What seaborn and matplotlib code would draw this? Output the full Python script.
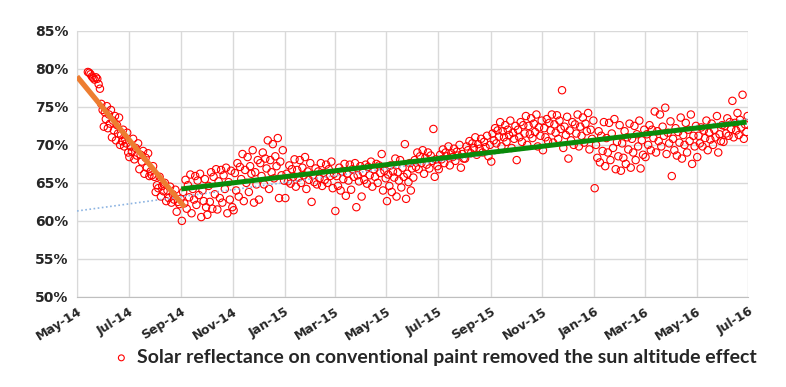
import matplotlib
matplotlib.use("Agg")
import matplotlib.pyplot as plt
import matplotlib.dates as mdates
import matplotlib.ticker as mtick
import seaborn as sns
import pandas as pd
import numpy as np

# readings per month (%)
months = ["2014-05", "2014-06", "2014-07", "2014-08", "2014-09", "2014-10", "2014-11",
          "2014-12", "2015-01", "2015-02", "2015-03", "2015-04", "2015-05", "2015-06",
          "2015-07", "2015-08", "2015-09", "2015-10", "2015-11", "2015-12", "2016-01",
          "2016-02", "2016-03", "2016-04", "2016-05", "2016-06"]
first_day = 13  # first reading is mid May 2014
falling_months = ["2014-06", "2014-07", "2014-08"]  # reflectance drops fast inside these

vals_2014_05 = [79.6, 79.5, 79.3, 79.0, 78.8, 78.6, 78.9, 78.7, 78.0, 77.4, 75.4, 74.6]
vals_2014_06 = [74.0, 73.6, 73.2, 72.8, 72.4, 73.8, 72.2, 71.9, 74.3, 73.4, 72.6, 71.5, 71.0,
                70.8, 72.0, 71.3, 70.6, 75.1, 74.6, 70.2, 69.8, 70.0, 69.0, 71.6, 70.5]
vals_2014_07 = [70.8, 70.2, 69.8, 68.6, 68.9, 68.3, 68.1, 68.7, 69.1, 68.4, 67.8, 66.2, 66.0,
                67.2, 66.8, 65.8, 67.0, 69.6, 69.2, 66.5, 65.9]
vals_2014_08 = [64.5, 63.8, 64.0, 62.6, 62.4, 64.7, 63.9, 63.2, 62.8, 64.3, 65.0, 63.5, 62.9,
                61.2, 64.6, 64.1, 63.0, 62.5, 65.8, 62.2]
vals_2014_09 = [65.9, 65.4, 62.1, 61.0, 61.6, 62.8, 63.4, 64.2, 60.5, 60.0, 66.1, 65.3, 64.7,
                63.8, 62.3, 61.8, 65.5, 66.2, 64.0, 63.1, 62.6]
vals_2014_10 = [66.7, 66.0, 65.1, 62.5, 61.0, 60.8, 66.4, 65.8, 64.2, 63.5, 62.4, 61.6, 67.0,
                66.6, 66.8, 62.8, 61.5, 63.0, 64.6, 65.2, 61.8]
vals_2014_11 = [66.3, 64.0, 63.2, 62.6, 61.4, 64.8, 66.4, 67.2, 68.4, 69.3, 68.0, 67.6, 66.7,
                65.0, 63.8, 62.4, 66.2, 65.5, 68.8, 67.1]
vals_2014_12 = [70.9, 70.6, 70.1, 69.0, 68.5, 67.8, 67.6, 69.3, 68.2, 66.4, 65.9, 64.8, 63.0,
                62.8, 66.0, 67.2, 65.3, 68.0, 66.9, 65.6, 64.2]
vals_2015_01 = [68.4, 67.6, 68.1, 66.8, 66.2, 65.7, 65.0, 64.5, 66.5, 67.0, 65.4, 64.9, 63.0,
                66.0, 67.3, 65.2, 64.2, 66.7, 65.8, 68.0]
vals_2015_02 = [66.5, 65.9, 64.8, 65.6, 66.9, 67.4, 65.1, 64.6, 66.2, 62.5, 66.0, 67.6, 65.4,
                64.3, 66.8, 65.0, 66.3, 67.8]
vals_2015_03 = [66.8, 67.4, 65.9, 65.2, 64.6, 67.6, 66.2, 65.5, 61.3, 67.0, 66.5, 64.1, 65.8,
                61.8, 64.0, 63.3, 67.5, 66.0, 65.3, 67.2]
vals_2015_04 = [67.5, 67.3, 66.4, 65.6, 64.9, 67.8, 66.3, 65.0, 64.0, 68.8, 66.0, 67.1, 65.8,
                63.2, 66.8, 65.4, 64.5, 66.6, 67.4]
vals_2015_05 = [65.1, 64.6, 64.0, 63.8, 64.4, 66.2, 67.0, 66.5, 65.8, 62.9, 63.2, 68.0, 70.1,
                67.6, 66.9, 66.1, 67.3, 68.2, 66.4, 65.7, 62.6, 65.3]
vals_2015_06 = [69.0, 68.3, 67.9, 67.2, 66.8, 72.1, 68.6, 68.0, 67.1, 65.8, 65.7, 69.3, 68.5,
                67.6, 66.9, 68.1, 69.0, 67.4, 66.2]
vals_2015_07 = [68.8, 68.2, 67.6, 66.8, 69.0, 68.5, 67.9, 69.5, 68.7, 68.1, 67.3, 69.8, 68.4,
                69.1, 67.0, 68.9, 69.4, 70.0, 68.6]
vals_2015_08 = [70.5, 69.8, 68.9, 69.3, 70.1, 69.6, 68.5, 70.8, 69.0, 68.2, 70.4, 71.2, 69.5,
                70.0, 69.7, 68.7, 71.0, 70.2]
vals_2015_09 = [73.2, 72.6, 71.8, 71.0, 70.4, 72.2, 71.5, 70.8, 69.8, 73.0, 72.0, 71.3, 70.2,
                69.6, 71.9, 71.1, 67.8, 70.6, 72.5, 71.6]
vals_2015_10 = [73.8, 73.2, 72.5, 71.7, 70.9, 73.5, 72.0, 71.2, 70.4, 72.8, 71.5, 70.0, 68.0,
                73.0, 72.3, 71.0, 69.8, 74.0, 72.6, 71.4]
vals_2015_11 = [77.2, 73.9, 73.2, 72.4, 71.6, 70.8, 72.9, 72.1, 71.3, 70.3, 69.6, 74.0, 73.4,
                72.7, 71.9, 69.3, 70.5, 73.7, 72.2, 71.0]
vals_2015_12 = [74.2, 73.6, 72.8, 71.9, 71.2, 70.6, 69.8, 68.2, 73.0, 72.4, 71.5, 70.0, 69.4,
                74.0, 72.7, 71.8, 70.3, 73.2, 72.0, 70.8]
vals_2016_01 = [73.4, 72.6, 71.8, 70.9, 70.0, 69.2, 68.5, 67.7, 64.3, 72.9, 71.5, 70.4, 69.0,
                68.0, 67.2, 73.0, 71.2, 69.6, 68.3, 66.8]
vals_2016_02 = [72.8, 72.0, 71.4, 70.6, 69.8, 69.0, 68.3, 67.5, 66.6, 73.2, 71.8, 70.2, 68.7,
                67.0, 72.5, 71.0, 69.4, 68.0, 66.9, 70.8]
vals_2016_03 = [74.9, 74.4, 74.0, 72.4, 71.6, 70.9, 70.2, 69.3, 68.4, 73.1, 72.0, 71.2, 70.5,
                69.8, 68.8, 72.6, 71.4, 70.0, 69.0, 71.8]
vals_2016_04 = [74.0, 73.6, 72.9, 72.0, 71.3, 70.5, 69.8, 69.0, 68.2, 67.5, 65.9, 72.5, 71.7,
                70.8, 70.0, 69.3, 68.6, 71.2, 70.3, 72.2]
vals_2016_05 = [73.2, 72.6, 71.9, 71.2, 70.5, 69.8, 69.0, 68.4, 72.8, 72.0, 71.4, 70.7, 70.0,
                69.3, 71.6, 70.9, 72.3, 71.0, 70.2, 73.8]
vals_2016_06 = [76.6, 74.2, 73.5, 72.9, 72.3, 71.7, 71.0, 70.4, 73.8, 73.0, 72.5, 71.9, 71.3,
                70.8, 72.7, 71.5, 73.3, 72.1, 71.2, 75.8]

monthly = [vals_2014_05, vals_2014_06, vals_2014_07, vals_2014_08, vals_2014_09, vals_2014_10,
           vals_2014_11, vals_2014_12, vals_2015_01, vals_2015_02, vals_2015_03, vals_2015_04,
           vals_2015_05, vals_2015_06, vals_2015_07, vals_2015_08, vals_2015_09, vals_2015_10,
           vals_2015_11, vals_2015_12, vals_2016_01, vals_2016_02, vals_2016_03, vals_2016_04,
           vals_2016_05, vals_2016_06]

# trend lines (start date, end date), (start %, end %)
orange_line = (["2014-05-01", "2014-09-05"], [79.0, 61.8])
green_line = (["2014-09-01", "2016-06-29"], [64.2, 73.0])
blue_line = (["2014-05-01", "2016-07-01"], [61.3, 73.4])

label = "Solar reflectance on conventional paint removed the sun altitude effect"


def vdc(i):
    # bit-reversed fraction, used to scatter the readings of a month over its days
    f, d = 0.0, 0.5
    while i:
        f += d * (i & 1)
        i >>= 1
        d /= 2
    return f


rows = []
for m, vals in zip(months, monthly):
    start = pd.Timestamp(m + "-01")
    end = start + pd.offsets.MonthBegin(1)
    n = len(vals)
    if m == months[0]:
        start = start + pd.Timedelta(days=first_day - 1)
        ordered = list(vals)
    else:
        keys = np.array([vdc(i) for i in range(n)])
        srt = sorted(vals)
        if m in falling_months:
            keys = 0.45 * keys + 0.55 * (1 - np.arange(n) / n)
        ranks = np.argsort(np.argsort(keys))
        ordered = [srt[r] for r in ranks]
    span = (end - start).days
    for i, v in enumerate(ordered):
        rows.append((start + pd.Timedelta(days=(i + 0.5) * span / n), v))
df = pd.DataFrame(rows, columns=["date", "value"])

sns.set_style("whitegrid", {"grid.color": "#d9d9d9"})
fig = plt.figure(figsize=(7.86, 3.87), dpi=100)
ax = fig.add_axes([0.098, 0.233, 0.854, 0.687])

sns.scatterplot(data=df, x="date", y="value", ax=ax, marker="o", s=28,
                facecolor="none", edgecolor="red", linewidth=0.8, label=label, zorder=3)

ax.plot(pd.to_datetime(blue_line[0]), blue_line[1], color="#8db4e2", lw=1.2, ls=(0, (1, 1.5)), zorder=4)
ax.plot(pd.to_datetime(orange_line[0]), orange_line[1], color="#ed7d31", lw=3.8,
        solid_capstyle="butt", zorder=5)
ax.plot(pd.to_datetime(green_line[0]), green_line[1], color="#0a8a0a", lw=3.6,
        solid_capstyle="butt", zorder=5)

ax.set_xlim(pd.Timestamp("2014-05-01"), pd.Timestamp("2016-07-01"))
ax.set_ylim(50, 85)
ax.yaxis.set_major_locator(mtick.MultipleLocator(5))
ax.yaxis.set_major_formatter(mtick.FuncFormatter(lambda v, p: f"{v:.0f}%"))
ax.xaxis.set_major_locator(mdates.MonthLocator(bymonth=[1, 3, 5, 7, 9, 11]))
ax.xaxis.set_major_formatter(mdates.DateFormatter("%b-%y"))
ax.set_xlabel("")
ax.set_ylabel("")
ax.grid(True, color="#d9d9d9", lw=1)
for s in ax.spines.values():
    s.set_visible(False)
ax.spines["bottom"].set_visible(True)
ax.spines["bottom"].set_color("#bfbfbf")
ax.spines["left"].set_visible(True)
ax.spines["left"].set_color("#d9d9d9")

for t in ax.get_xticklabels():
    t.set_rotation(32)
    t.set_ha("right")
    t.set_rotation_mode("anchor")
    t.set_fontweight("bold")
    t.set_fontsize(9)
    t.set_color("#262626")
for t in ax.get_yticklabels():
    t.set_fontweight("bold")
    t.set_fontsize(10)
    t.set_color("#262626")
ax.tick_params(axis="both", length=0, pad=6)

leg = ax.legend(loc="center", bbox_to_anchor=(0.532, -0.228), frameon=False,
                handletextpad=0.3, handlelength=1.0, markerscale=0.8,
                prop={"family": ["Lato", "DejaVu Sans"], "weight": "bold", "size": 14})
for h in leg.legend_handles:
    h.set_facecolor("none")
    h.set_edgecolor("red")

fig.savefig("out.png", dpi=100)
